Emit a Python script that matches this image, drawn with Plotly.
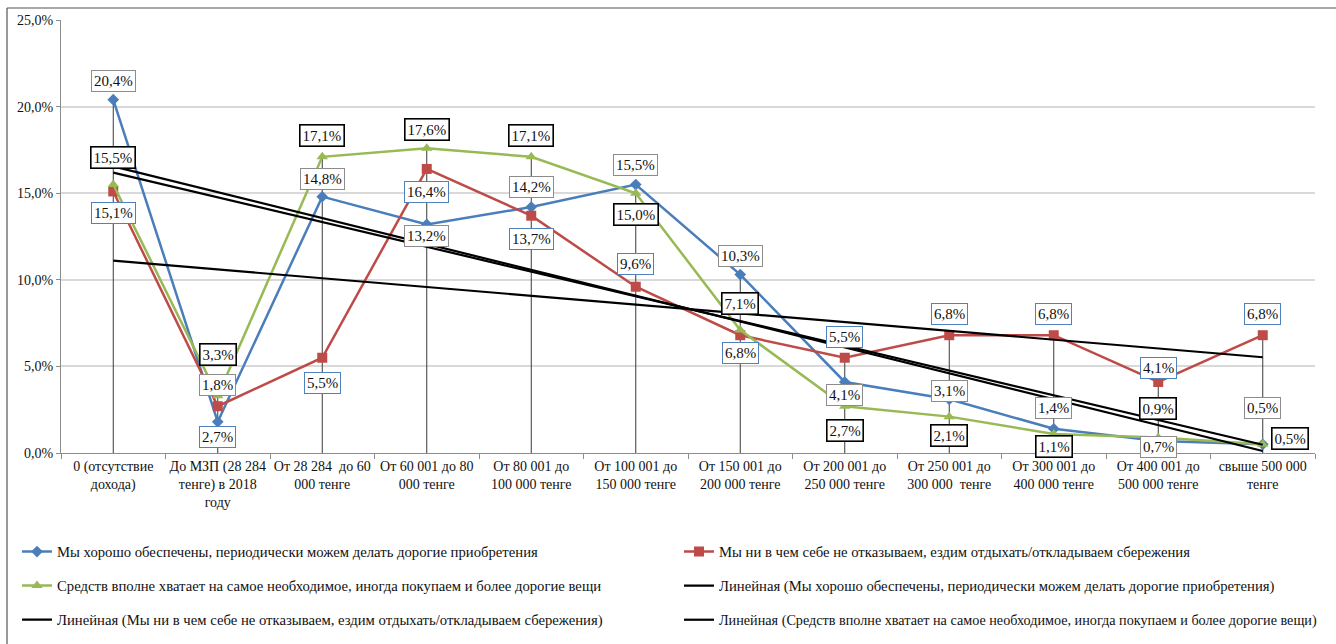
import numpy as np
import plotly.graph_objects as go

categories = [
    "0 (отсутствие<br>дохода)",
    "До МЗП (28 284<br>тенге) в 2018<br>году",
    "От 28 284  до 60<br>000 тенге",
    "От 60 001 до 80<br>000 тенге",
    "От 80 001 до<br>100 000 тенге",
    "От 100 001 до<br>150 000 тенге",
    "От 150 001 до<br>200 000 тенге",
    "От 200 001 до<br>250 000 тенге",
    "От 250 001 до<br>300 000  тенге",
    "От 300 001 до<br>400 000 тенге",
    "От 400 001 до<br>500 000 тенге",
    "свыше 500 000<br>тенге",
]

name_blue = "Мы хорошо обеспечены, периодически можем делать дорогие приобретения"
name_red = "Мы ни в чем себе не отказываем, ездим отдыхать/откладываем сбережения"
name_green = "Средств вполне хватает на самое необходимое, иногда покупаем и более дорогие вещи"

blue_values = [20.4, 1.8, 14.8, 13.2, 14.2, 15.5, 10.3, 4.1, 3.1, 1.4, 0.7, 0.5]
red_values = [15.1, 2.7, 5.5, 16.4, 13.7, 9.6, 6.8, 5.5, 6.8, 6.8, 4.1, 6.8]
green_values = [15.5, 3.3, 17.1, 17.6, 17.1, 15.0, 7.1, 2.7, 2.1, 1.1, 0.9, 0.5]

y_ticks = [0, 5, 10, 15, 20, 25]
y_tick_labels = ["0,0%", "5,0%", "10,0%", "15,0%", "20,0%", "25,0%"]

# label placement (pixel shifts, screen-down positive) -- style only
blue_label_dy = [-19, -37, -18, 12, -20, -20, -19, 13, -8, -21, 6, -36]
red_label_dy = [22, 31, 25, 23, 23, -23, 18, -21, -21, -21, -14, -21]
green_label_dy = [-27, -41, -21, -19, -21, 21, -27, 24, 19, 13, -29, -6]
green_label_dx = [0, 0, 0, 0, 0, 0, 0, 0, 0, 0, 0, 27]

BLUE = "#4A7EBB"
RED = "#BE4B48"
GREEN = "#98B954"
FONT = "Liberation Serif"

n = len(categories)
idx = np.arange(1, n + 1)


def trend(vals):
    k, b = np.polyfit(idx, np.array(vals), 1)
    return list(k * idx + b)


fig = go.Figure()

dx, dy = [], []
for i, c in enumerate(categories):
    m = max(blue_values[i], red_values[i], green_values[i])
    dx += [c, c, None]
    dy += [0, m, None]
fig.add_trace(go.Scatter(x=dx, y=dy, mode="lines", line=dict(color="#3a3a3a", width=1),
                         showlegend=False, hoverinfo="skip"))

fig.add_trace(go.Scatter(x=categories, y=blue_values, name=name_blue, mode="lines+markers",
                         line=dict(color=BLUE, width=2.5),
                         marker=dict(symbol="diamond", size=9, color=BLUE), legend="legend"))
fig.add_trace(go.Scatter(x=categories, y=red_values, name=name_red, mode="lines+markers",
                         line=dict(color=RED, width=2.5),
                         marker=dict(symbol="square", size=10, color=RED), legend="legend2"))
fig.add_trace(go.Scatter(x=categories, y=green_values, name=name_green, mode="lines+markers",
                         line=dict(color=GREEN, width=2.5),
                         marker=dict(symbol="triangle-up", size=10, color=GREEN), legend="legend3"))
fig.add_trace(go.Scatter(x=categories, y=trend(blue_values), name="Линейная (" + name_blue + ")",
                         mode="lines", line=dict(color="black", width=2.2), legend="legend4"))
fig.add_trace(go.Scatter(x=categories, y=trend(red_values), name="Линейная (" + name_red + ")",
                         mode="lines", line=dict(color="black", width=2.2), legend="legend5"))
fig.add_trace(go.Scatter(x=categories, y=trend(green_values), name="Линейная (" + name_green + ")",
                         mode="lines", line=dict(color="black", width=2.2), legend="legend6"))


def fmt(v):
    return f"{v:.1f}".replace(".", ",") + "%"


annotations = []
for vals, dys, dxs, bc, bw in [
    (blue_values, blue_label_dy, [0] * n, "#8c8c8c", 1),
    (red_values, red_label_dy, [0] * n, "#4F81BD", 1),
    (green_values, green_label_dy, green_label_dx, "#000000", 1.6),
]:
    for i, v in enumerate(vals):
        annotations.append(dict(
            x=i, y=v, xref="x", yref="y", text=fmt(v), showarrow=False,
            yshift=-dys[i], xshift=dxs[i],
            font=dict(family=FONT, size=15, color="#111"),
            bgcolor="white", bordercolor=bc, borderwidth=bw, borderpad=2,
        ))

W, H = 1336, 644
L, R, T, B = 61, 21, 20, 191
pw, ph = W - L - R, H - T - B


def px_x(p):
    return (p - L) / pw


def px_y(p):
    return (H - B - p) / ph


shapes = [
    dict(type="line", xref="paper", yref="paper", x0=px_x(7), x1=px_x(7), y0=px_y(8), y1=px_y(644),
         line=dict(color="#555", width=1.2)),
    dict(type="line", xref="paper", yref="paper", x0=px_x(7), x1=px_x(1336), y0=px_y(8), y1=px_y(8),
         line=dict(color="#555", width=1.2)),
]


def leg(xp, yp, size=14.7):
    return dict(orientation="h", font=dict(family=FONT, size=size, color="#111"),
                xanchor="left", yanchor="middle", bgcolor="rgba(0,0,0,0)", itemwidth=30,
                x=px_x(xp), y=px_y(yp))


fig.update_layout(
    width=W, height=H,
    margin=dict(l=L, r=R, t=T, b=B, autoexpand=False),
    paper_bgcolor="white", plot_bgcolor="white",
    separators=", ",
    font=dict(family=FONT, size=14, color="#111"),
    showlegend=True,
    legend=leg(17, 552),
    legend2=leg(679, 552),
    legend3=leg(17, 586),
    legend4=leg(679, 586),
    legend5=leg(17, 620),
    legend6=leg(679, 620, 14.2),
    annotations=annotations,
    shapes=shapes,
    xaxis=dict(type="category", range=[-0.5, n - 0.5], showgrid=False, showline=True,
               linecolor="#8c8c8c", linewidth=1, ticks="outside", tickson="boundaries",
               ticklen=5, tickcolor="#8c8c8c", automargin=False, tickangle=0,
               tickfont=dict(family=FONT, size=14, color="#111")),
    yaxis=dict(range=[0, 25], tickvals=y_ticks, ticktext=y_tick_labels,
               showgrid=True, gridcolor="#d9d9d9", gridwidth=1.5, showline=True,
               linecolor="#8c8c8c", ticks="outside", ticklen=4, tickcolor="#8c8c8c",
               zeroline=False, automargin=False,
               tickfont=dict(family=FONT, size=14, color="#111")),
)

fig.write_html("out.html", config={"displayModeBar": False},
               post_script="document.body.style.margin='0px';")
